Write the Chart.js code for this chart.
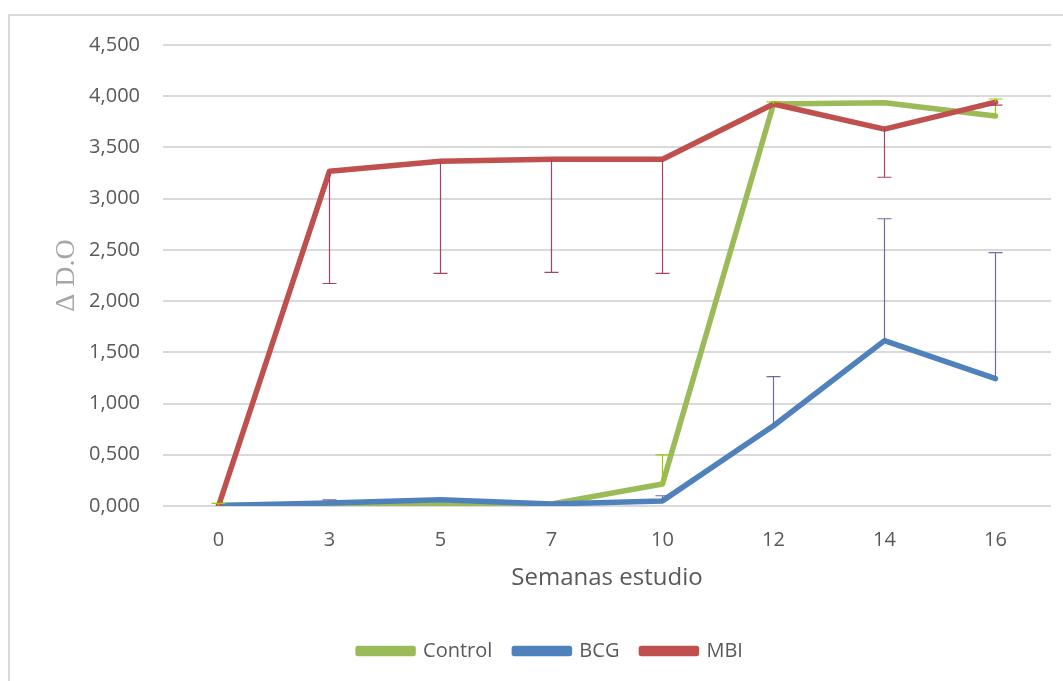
<!DOCTYPE html>
<html>
<head>
<meta charset="utf-8">
<script src="https://cdn.jsdelivr.net/npm/chart.js@4/dist/chart.umd.min.js"></script>
<style>
    html, body { margin: 0; padding: 0; background: #fff; overflow: hidden; }
    #frame { position: absolute; left: 8px; top: 14px; width: 1100px; height: 720px; border: 2px solid #d9d9d9; box-sizing: border-box; }
    #wrap { position: absolute; left: 0; top: 0; width: 1063px; height: 681px; }
</style>
</head>
<body>
<div id="frame"></div>
<div id="wrap"><canvas id="chart"></canvas></div>
<script>
// semanas del estudio
const weeks = ['0', '3', '5', '7', '10', '12', '14', '16'];

// valores medios (Δ D.O)
const controlValues = [0.005, 0.010, 0.010, 0.020, 0.215, 3.924, 3.937, 3.806];
const bcgValues     = [0.005, 0.030, 0.060, 0.020, 0.050, 0.783, 1.614, 1.243];
const mbiValues     = [0.000, 3.268, 3.366, 3.385, 3.385, 3.924, 3.679, 3.943];

// barras de error (solo un lado, como en el original)
const controlErrUp   = [0.02, 0, 0, 0, 0.285, 0.02, 0, 0.167];
const bcgErrUp       = [0, 0.03, 0, 0, 0.05, 0.48, 1.19, 1.23];
const mbiErrDown     = [0, 1.096, 1.096, 1.105, 1.115, 0, 0.47, 0.03];

const yTicks = [0, 0.5, 1, 1.5, 2, 2.5, 3, 3.5, 4, 4.5];

// dibuja las barras de error con las escalas del gráfico
const errorBars = {
    id: 'errorBars',
    afterDatasetsDraw(chart) {
        const ctx = chart.ctx;
        const xs = chart.scales.x, ys = chart.scales.y;
        chart.data.datasets.forEach(ds => {
            if (!ds.errUp && !ds.errDown) return;
            ctx.save();
            ctx.strokeStyle = ds.errColor;
            ctx.lineWidth = 1.2;
            ds.data.forEach((v, i) => {
                const x = xs.getPixelForValue(i);
                const y0 = ys.getPixelForValue(v);
                const up = ds.errUp ? ds.errUp[i] : 0;
                const down = ds.errDown ? ds.errDown[i] : 0;
                [[up, 1], [down, -1]].forEach(([e, s]) => {
                    if (!e) return;
                    const y1 = ys.getPixelForValue(v + s * e);
                    ctx.beginPath();
                    ctx.moveTo(x, y0);
                    ctx.lineTo(x, y1);
                    ctx.moveTo(x - 7, y1);
                    ctx.lineTo(x + 7, y1);
                    ctx.stroke();
                });
            });
            ctx.restore();
        });
    }
};

function makeSeries(label, values, color, order) {
    return {
        label: label,
        data: values,
        borderColor: color,
        backgroundColor: color,
        borderWidth: 5.5,
        pointRadius: 0,
        tension: 0,
        borderCapStyle: 'round',
        borderJoinStyle: 'round',
        order: order
    };
}

const control = makeSeries('Control', controlValues, '#9bbb59', 3);
control.errUp = controlErrUp; control.errColor = '#99cc00';
const bcg = makeSeries('BCG', bcgValues, '#4f81bd', 2);
bcg.errUp = bcgErrUp; bcg.errColor = '#6b6ba8';
const mbi = makeSeries('MBI', mbiValues, '#c0504d', 1);
mbi.errDown = mbiErrDown; mbi.errColor = '#a8406e';

new Chart(document.getElementById('chart'), {
    type: 'line',
    data: { labels: weeks, datasets: [control, bcg, mbi] },
    plugins: [errorBars],
    options: {
        responsive: true,
        maintainAspectRatio: false,
        animation: false,
        layout: { padding: { left: 50, top: 45, right: 12, bottom: 10 } },
        plugins: {
            tooltip: { enabled: false },
            legend: {
                position: 'bottom',
                labels: {
                    boxWidth: 55,
                    boxHeight: 5,
                    padding: 22,
                    color: '#595959',
                    font: { family: 'Open Sans', size: 20 },
                    sort: (a, b) => a.datasetIndex - b.datasetIndex
                }
            }
        },
        scales: {
            x: {
                offset: true,
                grid: { display: false },
                border: { display: false },
                ticks: { color: '#595959', padding: 14, font: { family: 'Open Sans', size: 20 } },
                title: {
                    display: true,
                    text: 'Semanas estudio',
                    color: '#595959',
                    font: { family: 'Open Sans', size: 24 },
                    padding: { top: 0, bottom: 26 }
                },
                afterFit(scale) { scale.height = 113; }
            },
            y: {
                min: 0,
                max: 4.5,
                afterBuildTicks(scale) { scale.ticks = yTicks.map(v => ({ value: v })); },
                grid: { color: '#d9d9d9', lineWidth: 2, drawTicks: false },
                border: { display: false },
                ticks: {
                    color: '#595959',
                    padding: 23,
                    font: { family: 'Open Sans', size: 20 },
                    callback: v => v.toFixed(3).replace('.', ',')
                },
                title: {
                    display: true,
                    text: 'Δ D.O',
                    color: '#a6a6a6',
                    font: { family: 'Liberation Serif', size: 28 },
                    padding: 0
                },
                afterFit(scale) { scale.width = 113; }
            }
        }
    }
});
</script>
</body>
</html>
